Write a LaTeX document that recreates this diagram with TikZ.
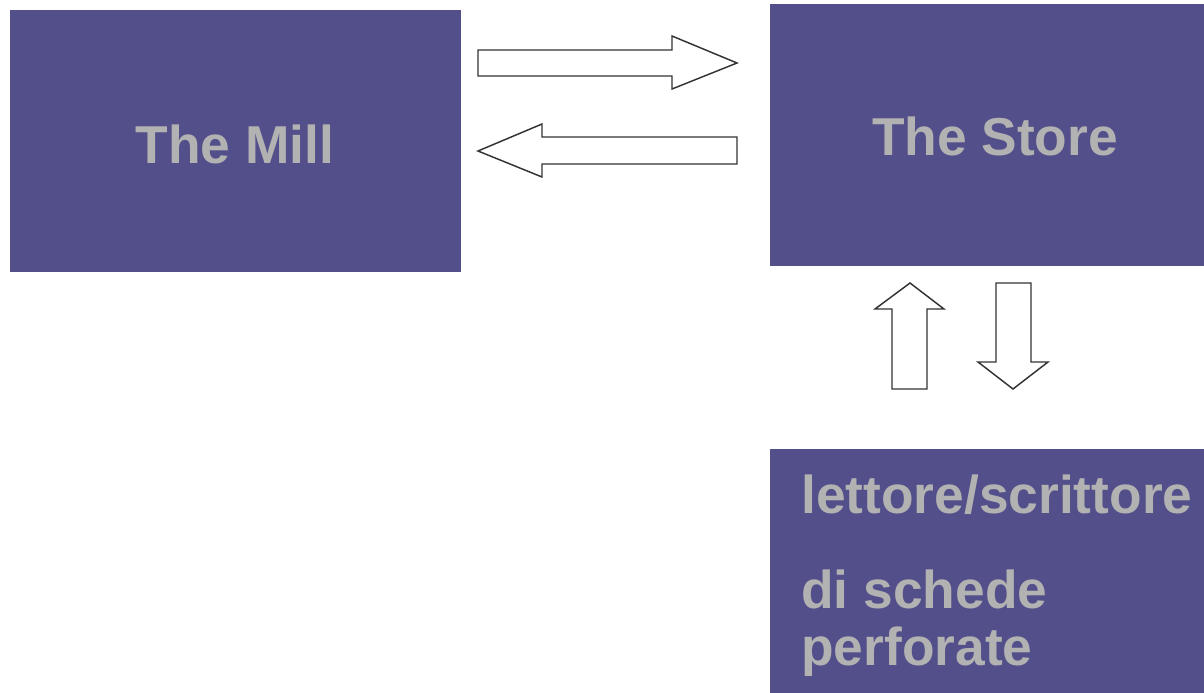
\documentclass[tikz,border=0pt]{standalone}
\usepackage{fontspec}
\setmainfont{Liberation Sans}
\definecolor{boxblue}{RGB}{83,79,138}
\definecolor{labelgray}{RGB}{178,178,178}
\tikzset{
  blockbox/.style={fill=boxblue, draw=none},
  blockarrow/.style={draw=black!80, fill=white, line width=1.1pt, line join=miter},
  boxlabel/.style={inner sep=0pt, text=labelgray, font=\fontsize{40}{42.75}\selectfont\bfseries}
}
\begin{document}
\begin{tikzpicture}[x=0.75pt,y=0.75pt,yscale=-1,xscale=1]
\useasboundingbox (0,0) rectangle (1204,693);

%Shape: Rectangle [id:mill]
\draw [blockbox] (10,10) rectangle (461,272) ;
%Shape: Rectangle [id:store]
\draw [blockbox] (770,4) rectangle (1204,266) ;
%Shape: Rectangle [id:reader]
\draw [blockbox] (770,449) rectangle (1204,693) ;

%Right Arrow [id:mill2store]
\draw [blockarrow] (478,50) -- (672,50) -- (672,36) -- (737,63) -- (672,89) -- (672,76) -- (478,76) -- cycle ;
%Left Arrow [id:store2mill]
\draw [blockarrow] (737,137) -- (542,137) -- (542,124) -- (478,151) -- (542,177) -- (542,164) -- (737,164) -- cycle ;
%Up Arrow [id:reader2store]
\draw [blockarrow] (892,389) -- (892,309) -- (875,309) -- (910,283) -- (944,309) -- (927,309) -- (927,389) -- cycle ;
%Down Arrow [id:store2reader]
\draw [blockarrow] (996,283) -- (1031,283) -- (1031,362) -- (1048,362) -- (1013,389) -- (978,362) -- (996,362) -- cycle ;

% Text Node
\node (milltext) [boxlabel, anchor=base] at (235,163) {The Mill};
% Text Node
\node (storetext) [boxlabel, anchor=base] at (995,155) {The Store};
% Text Node
\node (readertext) [boxlabel, anchor=base west, align=left] at (801,665) {lettore/scrittore\\[28.5pt]di schede\\perforate};

\end{tikzpicture}
\end{document}
